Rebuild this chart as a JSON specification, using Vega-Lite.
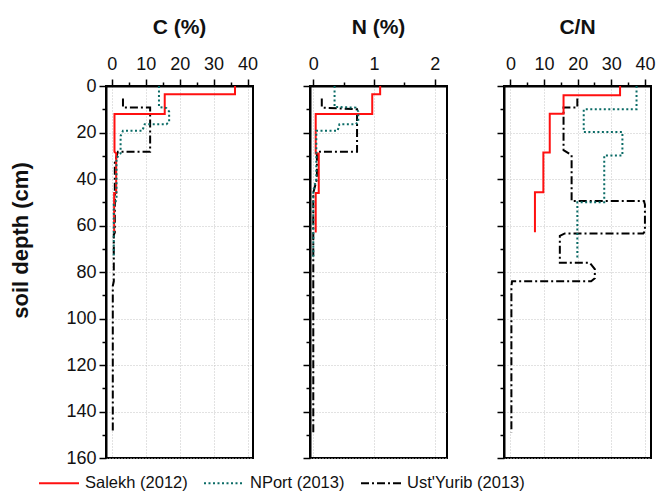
{
  "$schema": "https://vega.github.io/schema/vega-lite/v6.json",
  "padding": {"left": 8, "top": 16, "right": 5, "bottom": 5},
  "background": "white",
  "config": {
    "font": "Liberation Sans",
    "view": {"stroke": "black", "strokeWidth": 2},
    "title": {"font": "Liberation Sans", "fontSize": 21, "fontWeight": "bold", "color": "#111", "anchor": "middle", "offset": 17},
    "axis": {
      "domainColor": "black", "domainWidth": 2,
      "tickColor": "black", "tickWidth": 1.5,
      "labelFont": "Liberation Sans", "labelFontSize": 18, "labelColor": "#111",
      "gridColor": "#c4c4c4", "gridDash": [1, 2], "gridWidth": 1,
      "titleFont": "Liberation Sans"
    },
    "legend": {"labelFont": "Liberation Sans", "labelFontSize": 16.5, "labelColor": "#111"}
  },
  "datasets": {
    "profiles": [
      {"v": "C", "site": "Ust'Yurib (2013)", "i": 0, "value": 3.3, "depth": 5.4},
      {"v": "C", "site": "Ust'Yurib (2013)", "i": 1, "value": 3.3, "depth": 9.3},
      {"v": "C", "site": "Ust'Yurib (2013)", "i": 2, "value": 11.3, "depth": 9.3},
      {"v": "C", "site": "Ust'Yurib (2013)", "i": 3, "value": 11.3, "depth": 28.3},
      {"v": "C", "site": "Ust'Yurib (2013)", "i": 4, "value": 1.8, "depth": 28.3},
      {"v": "C", "site": "Ust'Yurib (2013)", "i": 5, "value": 0.9, "depth": 33},
      {"v": "C", "site": "Ust'Yurib (2013)", "i": 6, "value": 0.9, "depth": 63},
      {"v": "C", "site": "Ust'Yurib (2013)", "i": 7, "value": 0.6, "depth": 64},
      {"v": "C", "site": "Ust'Yurib (2013)", "i": 8, "value": 0.6, "depth": 84},
      {"v": "C", "site": "Ust'Yurib (2013)", "i": 9, "value": 0.3, "depth": 86},
      {"v": "C", "site": "Ust'Yurib (2013)", "i": 10, "value": 0.3, "depth": 149},

      {"v": "C", "site": "Salekh (2012)", "i": 0, "value": 36.3, "depth": 0},
      {"v": "C", "site": "Salekh (2012)", "i": 1, "value": 36.3, "depth": 3.6},
      {"v": "C", "site": "Salekh (2012)", "i": 2, "value": 15.6, "depth": 3.6},
      {"v": "C", "site": "Salekh (2012)", "i": 3, "value": 15.6, "depth": 12},
      {"v": "C", "site": "Salekh (2012)", "i": 4, "value": 0.8, "depth": 12},
      {"v": "C", "site": "Salekh (2012)", "i": 5, "value": 0.8, "depth": 28.3},
      {"v": "C", "site": "Salekh (2012)", "i": 6, "value": 1.3, "depth": 29},
      {"v": "C", "site": "Salekh (2012)", "i": 7, "value": 1.3, "depth": 46},
      {"v": "C", "site": "Salekh (2012)", "i": 8, "value": 0.7, "depth": 46},
      {"v": "C", "site": "Salekh (2012)", "i": 9, "value": 0.7, "depth": 63},

      {"v": "C", "site": "NPort (2013)", "i": 0, "value": 13.9, "depth": 0},
      {"v": "C", "site": "NPort (2013)", "i": 1, "value": 13.9, "depth": 9},
      {"v": "C", "site": "NPort (2013)", "i": 2, "value": 16.1, "depth": 9.5},
      {"v": "C", "site": "NPort (2013)", "i": 3, "value": 16.9, "depth": 11},
      {"v": "C", "site": "NPort (2013)", "i": 4, "value": 16.9, "depth": 15.5},
      {"v": "C", "site": "NPort (2013)", "i": 5, "value": 16.1, "depth": 16.4},
      {"v": "C", "site": "NPort (2013)", "i": 6, "value": 9.7, "depth": 16.4},
      {"v": "C", "site": "NPort (2013)", "i": 7, "value": 9.0, "depth": 19.3},
      {"v": "C", "site": "NPort (2013)", "i": 8, "value": 3.3, "depth": 19.3},
      {"v": "C", "site": "NPort (2013)", "i": 9, "value": 2.6, "depth": 21.5},
      {"v": "C", "site": "NPort (2013)", "i": 10, "value": 2.6, "depth": 29},
      {"v": "C", "site": "NPort (2013)", "i": 11, "value": 1.4, "depth": 31},
      {"v": "C", "site": "NPort (2013)", "i": 12, "value": 1.4, "depth": 49},
      {"v": "C", "site": "NPort (2013)", "i": 13, "value": 0.6, "depth": 51},
      {"v": "C", "site": "NPort (2013)", "i": 14, "value": 0.6, "depth": 74},

      {"v": "N", "site": "Ust'Yurib (2013)", "i": 0, "value": 0.14, "depth": 5.4},
      {"v": "N", "site": "Ust'Yurib (2013)", "i": 1, "value": 0.14, "depth": 9.3},
      {"v": "N", "site": "Ust'Yurib (2013)", "i": 2, "value": 0.72, "depth": 10},
      {"v": "N", "site": "Ust'Yurib (2013)", "i": 3, "value": 0.72, "depth": 28.3},
      {"v": "N", "site": "Ust'Yurib (2013)", "i": 4, "value": 0.06, "depth": 28.3},
      {"v": "N", "site": "Ust'Yurib (2013)", "i": 5, "value": 0.06, "depth": 40},
      {"v": "N", "site": "Ust'Yurib (2013)", "i": 6, "value": 0.0, "depth": 46},
      {"v": "N", "site": "Ust'Yurib (2013)", "i": 7, "value": 0.0, "depth": 149},

      {"v": "N", "site": "Salekh (2012)", "i": 0, "value": 1.10, "depth": 0},
      {"v": "N", "site": "Salekh (2012)", "i": 1, "value": 1.10, "depth": 3.6},
      {"v": "N", "site": "Salekh (2012)", "i": 2, "value": 0.97, "depth": 3.6},
      {"v": "N", "site": "Salekh (2012)", "i": 3, "value": 0.97, "depth": 12},
      {"v": "N", "site": "Salekh (2012)", "i": 4, "value": 0.04, "depth": 12},
      {"v": "N", "site": "Salekh (2012)", "i": 5, "value": 0.04, "depth": 29},
      {"v": "N", "site": "Salekh (2012)", "i": 6, "value": 0.09, "depth": 29},
      {"v": "N", "site": "Salekh (2012)", "i": 7, "value": 0.09, "depth": 46},
      {"v": "N", "site": "Salekh (2012)", "i": 8, "value": 0.04, "depth": 46},
      {"v": "N", "site": "Salekh (2012)", "i": 9, "value": 0.04, "depth": 63},

      {"v": "N", "site": "NPort (2013)", "i": 0, "value": 0.35, "depth": 0},
      {"v": "N", "site": "NPort (2013)", "i": 1, "value": 0.35, "depth": 9},
      {"v": "N", "site": "NPort (2013)", "i": 2, "value": 0.70, "depth": 9.3},
      {"v": "N", "site": "NPort (2013)", "i": 3, "value": 0.74, "depth": 11},
      {"v": "N", "site": "NPort (2013)", "i": 4, "value": 0.74, "depth": 15.5},
      {"v": "N", "site": "NPort (2013)", "i": 5, "value": 0.70, "depth": 16.4},
      {"v": "N", "site": "NPort (2013)", "i": 6, "value": 0.43, "depth": 16.4},
      {"v": "N", "site": "NPort (2013)", "i": 7, "value": 0.40, "depth": 19.3},
      {"v": "N", "site": "NPort (2013)", "i": 8, "value": 0.05, "depth": 19.3},
      {"v": "N", "site": "NPort (2013)", "i": 9, "value": 0.05, "depth": 40},
      {"v": "N", "site": "NPort (2013)", "i": 10, "value": 0.0, "depth": 45},
      {"v": "N", "site": "NPort (2013)", "i": 11, "value": 0.0, "depth": 74},

      {"v": "CN", "site": "Ust'Yurib (2013)", "i": 0, "value": 19.9, "depth": 5.4},
      {"v": "CN", "site": "Ust'Yurib (2013)", "i": 1, "value": 19.9, "depth": 9.3},
      {"v": "CN", "site": "Ust'Yurib (2013)", "i": 2, "value": 15.8, "depth": 9.3},
      {"v": "CN", "site": "Ust'Yurib (2013)", "i": 3, "value": 15.8, "depth": 27.6},
      {"v": "CN", "site": "Ust'Yurib (2013)", "i": 4, "value": 18.2, "depth": 29.7},
      {"v": "CN", "site": "Ust'Yurib (2013)", "i": 5, "value": 18.2, "depth": 49.5},
      {"v": "CN", "site": "Ust'Yurib (2013)", "i": 6, "value": 39.7, "depth": 49.5},
      {"v": "CN", "site": "Ust'Yurib (2013)", "i": 7, "value": 40.0, "depth": 51},
      {"v": "CN", "site": "Ust'Yurib (2013)", "i": 8, "value": 40.0, "depth": 62.5},
      {"v": "CN", "site": "Ust'Yurib (2013)", "i": 9, "value": 39.5, "depth": 63.4},
      {"v": "CN", "site": "Ust'Yurib (2013)", "i": 10, "value": 16.2, "depth": 63.4},
      {"v": "CN", "site": "Ust'Yurib (2013)", "i": 11, "value": 14.7, "depth": 64.5},
      {"v": "CN", "site": "Ust'Yurib (2013)", "i": 12, "value": 14.7, "depth": 76},
      {"v": "CN", "site": "Ust'Yurib (2013)", "i": 13, "value": 23.6, "depth": 76},
      {"v": "CN", "site": "Ust'Yurib (2013)", "i": 14, "value": 25.1, "depth": 78.8},
      {"v": "CN", "site": "Ust'Yurib (2013)", "i": 15, "value": 25.1, "depth": 82.7},
      {"v": "CN", "site": "Ust'Yurib (2013)", "i": 16, "value": 24.0, "depth": 84},
      {"v": "CN", "site": "Ust'Yurib (2013)", "i": 17, "value": 0.5, "depth": 84},
      {"v": "CN", "site": "Ust'Yurib (2013)", "i": 18, "value": 0.3, "depth": 86},
      {"v": "CN", "site": "Ust'Yurib (2013)", "i": 19, "value": 0.3, "depth": 149},

      {"v": "CN", "site": "Salekh (2012)", "i": 0, "value": 32.6, "depth": 0},
      {"v": "CN", "site": "Salekh (2012)", "i": 1, "value": 32.6, "depth": 4},
      {"v": "CN", "site": "Salekh (2012)", "i": 2, "value": 15.8, "depth": 4},
      {"v": "CN", "site": "Salekh (2012)", "i": 3, "value": 15.8, "depth": 11.9},
      {"v": "CN", "site": "Salekh (2012)", "i": 4, "value": 11.7, "depth": 11.9},
      {"v": "CN", "site": "Salekh (2012)", "i": 5, "value": 11.7, "depth": 28.6},
      {"v": "CN", "site": "Salekh (2012)", "i": 6, "value": 9.8, "depth": 28.6},
      {"v": "CN", "site": "Salekh (2012)", "i": 7, "value": 9.8, "depth": 45.7},
      {"v": "CN", "site": "Salekh (2012)", "i": 8, "value": 7.3, "depth": 45.7},
      {"v": "CN", "site": "Salekh (2012)", "i": 9, "value": 7.3, "depth": 62.9},

      {"v": "CN", "site": "NPort (2013)", "i": 0, "value": 37.5, "depth": 0},
      {"v": "CN", "site": "NPort (2013)", "i": 1, "value": 37.5, "depth": 10},
      {"v": "CN", "site": "NPort (2013)", "i": 2, "value": 21.8, "depth": 10},
      {"v": "CN", "site": "NPort (2013)", "i": 3, "value": 21.8, "depth": 19.8},
      {"v": "CN", "site": "NPort (2013)", "i": 4, "value": 33.3, "depth": 19.8},
      {"v": "CN", "site": "NPort (2013)", "i": 5, "value": 33.3, "depth": 29.9},
      {"v": "CN", "site": "NPort (2013)", "i": 6, "value": 27.9, "depth": 29.9},
      {"v": "CN", "site": "NPort (2013)", "i": 7, "value": 27.9, "depth": 50},
      {"v": "CN", "site": "NPort (2013)", "i": 8, "value": 19.9, "depth": 50},
      {"v": "CN", "site": "NPort (2013)", "i": 9, "value": 19.9, "depth": 74}
    ]
  },
  "data": {"name": "profiles"},
  "spacing": 57,
  "bounds": "flush",
  "resolve": {"scale": {"x": "independent", "color": "shared", "strokeDash": "shared"}},
  "hconcat": [
    {
      "width": 147,
      "height": 372,
      "title": "C (%)",
      "transform": [{"filter": "datum.v === 'C'"}],
      "mark": {"type": "line", "strokeWidth": 2},
      "encoding": {
        "x": {
          "field": "value", "type": "quantitative",
          "scale": {"domain": [-1.7, 41.6], "nice": false, "zero": false},
          "axis": {
            "orient": "top", "title": null,
            "values": [0, 5, 10, 15, 20, 25, 30, 35, 40],
            "labelExpr": "datum.value % 10 === 0 ? '' + datum.value : ''",
            "labelPadding": 6,
            "tickSize": {"condition": {"test": "datum.value % 10 === 0", "value": 7}, "value": 4},
            "gridOpacity": {"condition": {"test": "datum.value % 10 === 0", "value": 1}, "value": 0}
          }
        },
        "y": {
          "field": "depth", "type": "quantitative",
          "scale": {"domain": [0, 160], "reverse": true, "nice": false},
          "axis": {
            "title": "soil depth (cm)",
            "titleFontSize": 22, "titleFontWeight": "bold", "titleColor": "#111",
            "titleX": -86, "titleY": 154, "titleAngle": -90, "titleAlign": "center", "titleBaseline": "middle",
            "values": [0, 10, 20, 30, 40, 50, 60, 70, 80, 90, 100, 110, 120, 130, 140, 150, 160],
            "labelExpr": "datum.value % 20 === 0 ? '' + datum.value : ''",
            "labelPadding": 3,
            "tickSize": {"condition": {"test": "datum.value % 20 === 0", "value": 7}, "value": 4},
            "gridOpacity": {"condition": {"test": "datum.value % 20 === 0", "value": 1}, "value": 0}
          }
        },
        "color": {
          "field": "site", "type": "nominal",
          "scale": {"domain": ["Salekh (2012)", "NPort (2013)", "Ust'Yurib (2013)"], "range": ["#ff1010", "#0a6b66", "#000000"]},
          "legend": {
            "title": null, "orient": "none", "direction": "horizontal",
            "legendX": -68, "legendY": 376,
            "symbolType": "stroke", "symbolSize": 1600, "symbolStrokeWidth": 2,
            "labelOffset": 5, "columnPadding": 12
          }
        },
        "strokeDash": {
          "field": "site", "type": "nominal",
          "scale": {"domain": ["Salekh (2012)", "NPort (2013)", "Ust'Yurib (2013)"], "range": [[1, 0], [2, 2.5], [8, 3, 2, 3]]},
          "legend": {
            "title": null, "orient": "none", "direction": "horizontal",
            "legendX": -68, "legendY": 376,
            "symbolType": "stroke", "symbolSize": 1600, "symbolStrokeWidth": 2,
            "labelOffset": 5, "columnPadding": 12
          }
        },
        "order": {"field": "i", "type": "quantitative"}
      }
    },
    {
      "width": 137,
      "height": 372,
      "title": "N (%)",
      "transform": [{"filter": "datum.v === 'N'"}],
      "mark": {"type": "line", "strokeWidth": 2},
      "encoding": {
        "x": {
          "field": "value", "type": "quantitative",
          "scale": {"domain": [-0.054, 2.2], "nice": false, "zero": false},
          "axis": {
            "orient": "top", "title": null,
            "values": [0, 0.5, 1, 1.5, 2],
            "labelExpr": "datum.value % 1 === 0 ? '' + datum.value : ''",
            "labelPadding": 6,
            "tickSize": {"condition": {"test": "datum.value % 1 === 0", "value": 7}, "value": 4},
            "gridOpacity": {"condition": {"test": "datum.value % 1 === 0", "value": 1}, "value": 0}
          }
        },
        "y": {
          "field": "depth", "type": "quantitative",
          "scale": {"domain": [0, 160], "reverse": true, "nice": false},
          "axis": {
            "title": null, "labels": false,
            "values": [0, 10, 20, 30, 40, 50, 60, 70, 80, 90, 100, 110, 120, 130, 140, 150, 160],
            "tickSize": {"condition": {"test": "datum.value % 20 === 0", "value": 7}, "value": 4},
            "gridOpacity": {"condition": {"test": "datum.value % 20 === 0", "value": 1}, "value": 0}
          }
        },
        "color": {"field": "site", "type": "nominal"},
        "strokeDash": {"field": "site", "type": "nominal"},
        "order": {"field": "i", "type": "quantitative"}
      }
    },
    {
      "width": 147,
      "height": 372,
      "title": "C/N",
      "transform": [{"filter": "datum.v === 'CN'"}],
      "mark": {"type": "line", "strokeWidth": 2},
      "encoding": {
        "x": {
          "field": "value", "type": "quantitative",
          "scale": {"domain": [-1.9, 41.8], "nice": false, "zero": false},
          "axis": {
            "orient": "top", "title": null,
            "values": [0, 5, 10, 15, 20, 25, 30, 35, 40],
            "labelExpr": "datum.value % 10 === 0 ? '' + datum.value : ''",
            "labelPadding": 6,
            "tickSize": {"condition": {"test": "datum.value % 10 === 0", "value": 7}, "value": 4},
            "gridOpacity": {"condition": {"test": "datum.value % 10 === 0", "value": 1}, "value": 0}
          }
        },
        "y": {
          "field": "depth", "type": "quantitative",
          "scale": {"domain": [0, 160], "reverse": true, "nice": false},
          "axis": {
            "title": null, "labels": false,
            "values": [0, 10, 20, 30, 40, 50, 60, 70, 80, 90, 100, 110, 120, 130, 140, 150, 160],
            "tickSize": {"condition": {"test": "datum.value % 20 === 0", "value": 7}, "value": 4},
            "gridOpacity": {"condition": {"test": "datum.value % 20 === 0", "value": 1}, "value": 0}
          }
        },
        "color": {"field": "site", "type": "nominal"},
        "strokeDash": {"field": "site", "type": "nominal"},
        "order": {"field": "i", "type": "quantitative"}
      }
    }
  ]
}
